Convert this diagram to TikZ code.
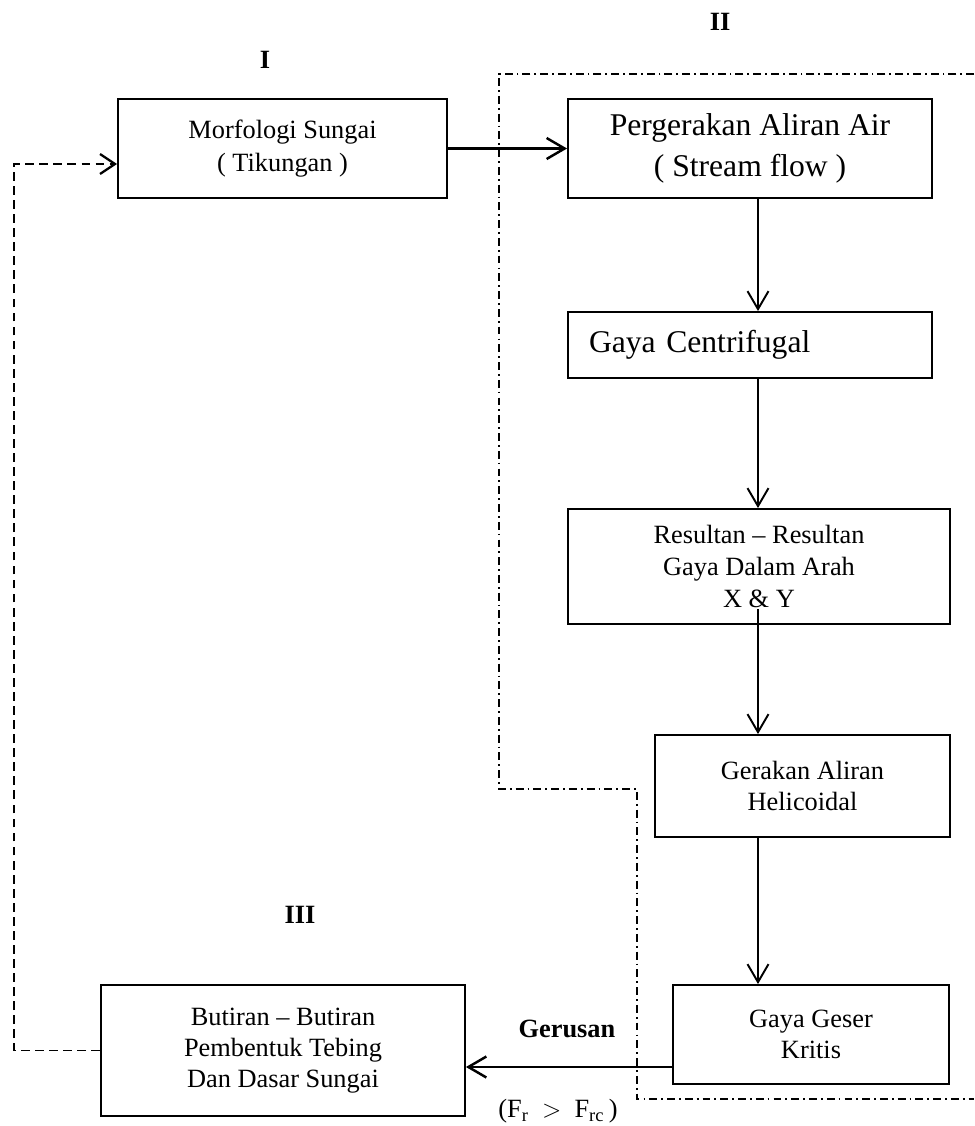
\documentclass[tikz,border=0pt]{standalone}
\usepackage{fontspec}
\setmainfont{Liberation Serif}
\usetikzlibrary{arrows.meta}
\tikzset{
  box/.style={draw, line width=1.1pt, inner sep=2pt, align=center, font=\fontsize{15}{17.5}\selectfont},
  bigtxt/.style={font=\fontsize{18}{23}\selectfont},
  arr/.style={line width=1.1pt, -{Straight Barb[length=0.36cm,width=0.42cm,line width=1.1pt]}},
  harr/.style={line width=1.6pt, -{Straight Barb[length=0.36cm,width=0.42cm,line width=1.4pt]}},
  fback/.style={line width=1.1pt, dash pattern=on 5pt off 3pt, -{Straight Barb[length=0.3cm,width=0.4cm,line width=1.3pt]}},
  region/.style={line width=0.7pt, dash pattern=on 4.5pt off 2.3pt on 1pt off 2.3pt},
  lbl/.style={font=\fontsize{15}{17.5}\selectfont\bfseries}
}
\begin{document}
\begin{tikzpicture}[x=0.02cm,y=-0.02cm]
\useasboundingbox (0,0) rectangle (974,1126);
% boxes
\node[box, minimum width=6.58cm, minimum height=1.98cm, font=\fontsize{15}{19}\selectfont] (m) at (282.5,148.5) {Morfologi Sungai\\( Tikungan )};
\node[box, bigtxt, minimum width=7.28cm, minimum height=1.98cm] (s) at (750,148.5) {Pergerakan Aliran Air\\( Stream flow )};
\node[box, bigtxt, minimum height=1.32cm, text width=6.44cm, inner xsep=0.42cm, align=left] (g) at (750,345) {Gaya Centrifugal};
\node[box, minimum width=7.64cm, minimum height=2.30cm, font=\fontsize{15}{18}\selectfont] (r) at (759,566.5) {Resultan -- Resultan\\Gaya Dalam Arah\\X \& Y};
\node[box, minimum width=5.90cm, minimum height=2.04cm] (h) at (802.5,786) {Gerakan Aliran\\Helicoidal};
\node[box, minimum width=5.52cm, minimum height=1.98cm] (k) at (811,1034.5) {Gaya Geser\\Kritis};
\node[box, minimum width=7.28cm, minimum height=2.62cm] (b) at (283,1050.5) {Butiran -- Butiran\\Pembentuk Tebing\\Dan Dasar Sungai};
% labels
\node[lbl] (l1) at (265,60) {I};
\node[lbl] (l2) at (720,22) {II};
\node[lbl] (l3) at (300,915) {III};
\node[lbl] (ger) at (567,1029) {Gerusan};
\node[font=\fontsize{15}{17.5}\selectfont] (cond) at (558,1111) {(F\textsubscript{r}\ \ $>$\ \ F\textsubscript{rc}\,)};
% region II boundary
\coordinate (ra) at (974,74);
\coordinate (rb) at (499,74);
\coordinate (rc) at (499,789);
\coordinate (rd) at (637,789);
\coordinate (re) at (637,1099);
\coordinate (rf) at (974,1099);
\draw[region] (ra) -- (rb) -- (rc) -- (rd) -- (re) -- (rf);
% connectors
\draw[harr] (m) -- (s);
\coordinate (col) at (758,0);
\draw[arr] (s.south -| col) -- (g.north -| col);
\draw[arr] (g.south -| col) -- (r.north -| col);
\draw[arr] ([yshift=0.32cm]r.south -| col) -- (h.north -| col);
\draw[arr] (h.south -| col) -- (k.north -| col);
\draw[harr] ([yshift=-0.65cm]k.west) -- ([yshift=-0.65cm]k.west -| b.east);
\coordinate (fbx) at (14,0);
\draw[fback] (b.west) -- (b.west -| fbx) |- ([yshift=-0.31cm]m.west);
\end{tikzpicture}
\end{document}
